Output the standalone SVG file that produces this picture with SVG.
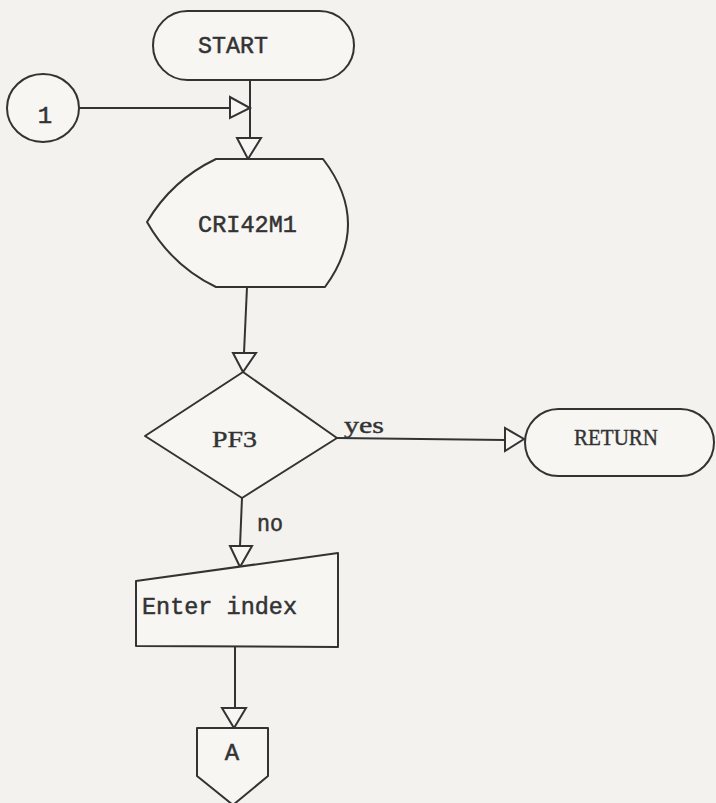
<svg xmlns="http://www.w3.org/2000/svg" width="716" height="803" viewBox="0 0 716 803">
<style>
.bg{fill:#f4f2ee}
.shape{fill:#f7f6f3;stroke:#333;stroke-width:2;stroke-linejoin:round}
.line{fill:none;stroke:#333;stroke-width:2}
.head{fill:#f7f6f3;stroke:#333;stroke-width:2;stroke-linejoin:miter}
.mono{font-family:"Liberation Mono","DejaVu Sans Mono",monospace;font-size:24px;fill:#333;stroke:#333;stroke-width:0.5}
.serif{font-family:"Liberation Serif","DejaVu Serif",serif;font-size:23px;fill:#333;stroke:#333;stroke-width:0.4}
</style>
<rect class="bg" x="0" y="0" width="716" height="803"/>
<g id="connectors">
  <line class="line" x1="79" y1="108" x2="230" y2="108"/>
  <polygon class="head" points="230,97 230,118 250,108"/>
  <line class="line" x1="250" y1="80" x2="250" y2="138"/>
  <polygon class="head" points="237,138 261,138 248,159"/>
  <line class="line" x1="247" y1="287" x2="244" y2="353"/>
  <polygon class="head" points="233,353 256,353 243,372"/>
  <line class="line" x1="337" y1="438" x2="505" y2="440"/>
  <polygon class="head" points="505,428 505,451 524,439"/>
  <text class="serif" x="344" y="433" textLength="40" lengthAdjust="spacingAndGlyphs">yes</text>
  <line class="line" x1="242" y1="498" x2="240" y2="546"/>
  <polygon class="head" points="230,546 252,546 240,567"/>
  <text class="mono" x="257" y="531" textLength="26" lengthAdjust="spacingAndGlyphs">no</text>
  <line class="line" x1="235" y1="646" x2="235" y2="708"/>
  <polygon class="head" points="222,708 246,708 234,728"/>
</g>
<g id="start">
  <rect class="shape" x="153" y="11" width="201" height="69" rx="34.5" ry="34.5"/>
  <text class="mono" x="198" y="53" textLength="70" lengthAdjust="spacingAndGlyphs">START</text>
</g>
<g id="connector-1">
  <ellipse class="shape" cx="43" cy="108" rx="36" ry="34"/>
  <text class="mono" x="45" y="123" text-anchor="middle">1</text>
</g>
<g id="cri42m1">
  <path class="shape" d="M216,159 L323,159 Q372,223 325,287 L216,287 Q172,266 147,222 Q172,180 216,159 Z"/>
  <text class="mono" x="198" y="232" textLength="99" lengthAdjust="spacingAndGlyphs">CRI42M1</text>
</g>
<g id="pf3">
  <polygon class="shape" points="243,372 337,438 242,498 145,436"/>
  <text class="serif" x="212" y="447" font-size="24" textLength="45" lengthAdjust="spacingAndGlyphs">PF3</text>
</g>
<g id="return">
  <rect class="shape" x="525" y="409" width="189" height="67" rx="33.5" ry="33.5"/>
  <text class="serif" x="574" y="445" textLength="84" lengthAdjust="spacingAndGlyphs">RETURN</text>
</g>
<g id="enter-index">
  <polygon class="shape" points="136,581 338,553 338,647 136,646"/>
  <text class="mono" x="142" y="614" textLength="155" lengthAdjust="spacingAndGlyphs">Enter index</text>
</g>
<g id="offpage-a">
  <polygon class="shape" points="197,728 268,728 268,776 233,805 197,776"/>
  <text class="mono" x="232" y="760" text-anchor="middle">A</text>
</g>
</svg>
